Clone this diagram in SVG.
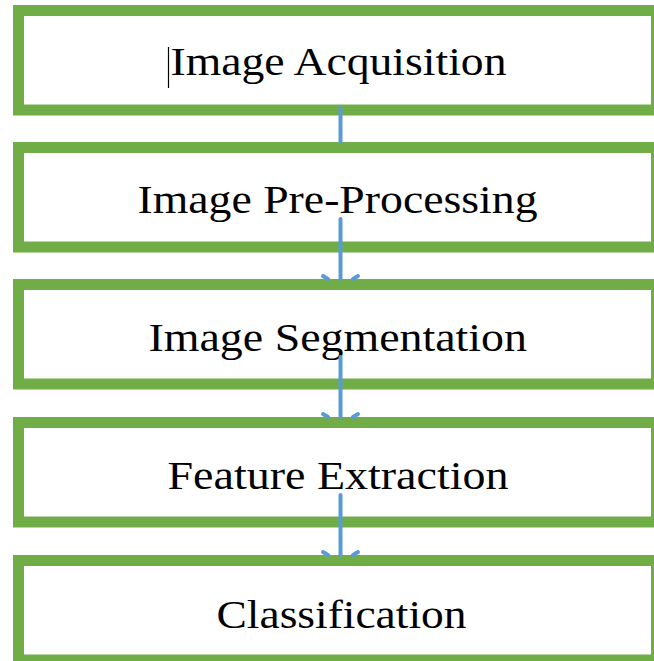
<svg xmlns="http://www.w3.org/2000/svg" width="654" height="661" viewBox="0 0 654 661">
  <style>
    .box rect { fill: #ffffff; stroke: #70AD47; stroke-width: 11; }
    .box text { font-family: 'Liberation Serif', 'Times New Roman', serif; font-size: 41px; fill: #000000; }
    .conn { stroke: #5B9BD5; stroke-width: 4; stroke-linecap: round; fill: none; }
  </style>
  <defs>
    <marker id="stubs" markerUnits="userSpaceOnUse" orient="auto" markerWidth="40" markerHeight="40" refX="0" refY="0" viewBox="-20 -20 40 40" overflow="visible">
      <path d="M-3,17.5 L0,12.5 M-3,-17.5 L0,-12.5" stroke="#5B9BD5" stroke-width="4" stroke-linecap="round" fill="none"/>
    </marker>
  </defs>
  <rect x="0" y="0" width="654" height="661" fill="#ffffff"/>
  <g id="node-acquisition" class="box">
    <rect x="18.5" y="10.5" width="638" height="99.5"/>
    <text x="170.5" y="75" textLength="336" lengthAdjust="spacingAndGlyphs">Image Acquisition</text>
    <line x1="168.5" y1="47" x2="168.5" y2="88" stroke="#000000" stroke-width="1.2"/>
  </g>
  <g id="node-preprocessing" class="box">
    <rect x="18.5" y="147.5" width="638" height="99.5"/>
    <text x="137.5" y="213" textLength="400" lengthAdjust="spacingAndGlyphs">Image Pre-Processing</text>
  </g>
  <g id="node-segmentation" class="box">
    <rect x="18.5" y="284.5" width="638" height="99.5"/>
    <text x="148.5" y="350.5" textLength="378.5" lengthAdjust="spacingAndGlyphs">Image Segmentation</text>
  </g>
  <g id="node-feature" class="box">
    <rect x="18.5" y="422.5" width="638" height="99.5"/>
    <text x="167.5" y="489" textLength="341" lengthAdjust="spacingAndGlyphs">Feature Extraction</text>
  </g>
  <g id="node-classification" class="box">
    <rect x="18.5" y="560.5" width="638" height="99.5"/>
    <text x="216.5" y="627.5" textLength="250" lengthAdjust="spacingAndGlyphs">Classification</text>
  </g>
  <g id="connectors">
    <path class="conn" d="M340.5,108 L340.5,142"/>
    <path class="conn" d="M340.5,219 L340.5,279" marker-end="url(#stubs)"/>
    <path class="conn" d="M340.5,357 L340.5,417" marker-end="url(#stubs)"/>
    <path class="conn" d="M340.5,495 L340.5,555" marker-end="url(#stubs)"/>
  </g>
</svg>
